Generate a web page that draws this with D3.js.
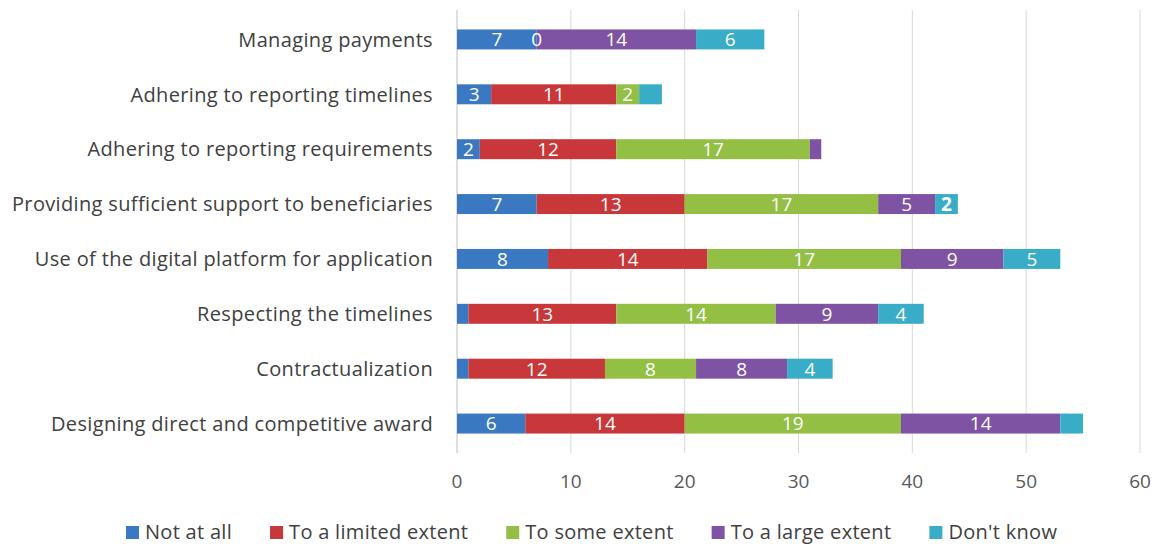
<!DOCTYPE html>
<html><head><meta charset="utf-8">
<script src="https://cdn.jsdelivr.net/npm/d3@7"></script>
<style>body{margin:0;background:#fff;} svg{display:block;}</style>
</head><body>
<svg id="c" width="1157" height="544"></svg>
<script>
const categories = ["Managing payments","Adhering to reporting timelines","Adhering to reporting requirements","Providing sufficient support to beneficiaries","Use of the digital platform for application","Respecting the timelines","Contractualization","Designing direct and competitive award"];
const seriesNames = ["Not at all","To a limited extent","To some extent","To a large extent","Don't know"];
const notAtAll   = [7, 3, 2, 7, 8, 1, 1, 6];
const limited    = [0, 11, 12, 13, 14, 13, 12, 14];
const someExtent = [0, 2, 17, 17, 17, 14, 8, 19];
const largeExt   = [14, 0, 1, 5, 9, 9, 8, 14];
const dontKnow   = [6, 2, 0, 2, 5, 4, 4, 2];
const xTicks = [0,10,20,30,40,50,60];
// labels not shown in the original: [categoryIndex, seriesIndex]
const hiddenLabels = [[0,2],[1,3],[1,4],[2,3],[2,4],[5,0],[6,0],[7,4]];
const colors = ["#3b78c2","#c8373a","#93bf45","#7e53a3","#39acc7"];

const svg = d3.select("#c");
const font = "'Open Sans', Lato, sans-serif";
const x = d3.scaleLinear().domain([0,60]).range([457,1140]);
const y = d3.scaleBand().domain(categories).range([12,451]).paddingInner(0.636).paddingOuter(0.318);

const seriesVals = [notAtAll, limited, someExtent, largeExt, dontKnow];
const rows = categories.map((c,i)=>{const o={cat:c}; seriesNames.forEach((s,j)=>o[s]=seriesVals[j][i]); return o;});
const stacked = d3.stack().keys(seriesNames)(rows);

// gridlines
svg.append("g").selectAll("line").data(xTicks).join("line")
  .attr("x1",d=>x(d)).attr("x2",d=>x(d)).attr("y1",10).attr("y2",453)
  .attr("stroke",d=>d===0?"#bfbfbf":"#d9d9d9").attr("stroke-width",1);

// bars
const isHidden=(i,j)=>hiddenLabels.some(h=>h[0]===i&&h[1]===j);
const barG = svg.append("g");
const labG = svg.append("g");
stacked.forEach((layer,j)=>{
  barG.append("g").selectAll("rect").data(layer).join("rect")
    .attr("x",d=>x(d[0])).attr("width",d=>x(d[1])-x(d[0]))
    .attr("y",d=>y(d.data.cat)).attr("height",y.bandwidth())
    .attr("fill",colors[j]);
  labG.append("g").selectAll("text").data(layer.map((d,i)=>({d,i})).filter(o=>!isHidden(o.i,j))).join("text")
    .attr("x",o=>(x(o.d[0])+x(o.d[1]))/2).attr("y",o=>y(o.d.data.cat)+y.bandwidth()/2)
    .attr("dy","0.36em").attr("text-anchor","middle")
    .attr("fill","#fff").attr("font-family",font).attr("font-size",19)
    .attr("font-weight",(o)=> (j===4 && o.i===3) ? "bold" : "normal")
    .text(o=>o.d[1]-o.d[0]);
});

// category labels
svg.append("g").selectAll("text").data(categories).join("text")
  .attr("x",433).attr("y",d=>y(d)+y.bandwidth()/2).attr("dy","0.36em")
  .attr("text-anchor","end").attr("fill","#404040").attr("font-family",font).attr("font-size",20)
  .attr("letter-spacing",0.35)
  .text(d=>d);

// x tick labels
svg.append("g").selectAll("text").data(xTicks).join("text")
  .attr("x",d=>x(d)).attr("y",488).attr("text-anchor","middle")
  .attr("fill","#595959").attr("font-family",font).attr("font-size",19)
  .text(d=>d);

// legend (laid out by measured text widths)
const lg = svg.append("g");
let lx = 126;
seriesNames.forEach((s,j)=>{
  lg.append("rect").attr("x",lx).attr("y",526).attr("width",13).attr("height",13).attr("fill",colors[j]);
  const t = lg.append("text").attr("x",lx+19).attr("y",539).attr("fill","#404040")
    .attr("font-family",font).attr("font-size",20).attr("letter-spacing",0.3).text(s);
  lx += 19 + t.node().getComputedTextLength() + 38;
});
</script>
</body></html>
